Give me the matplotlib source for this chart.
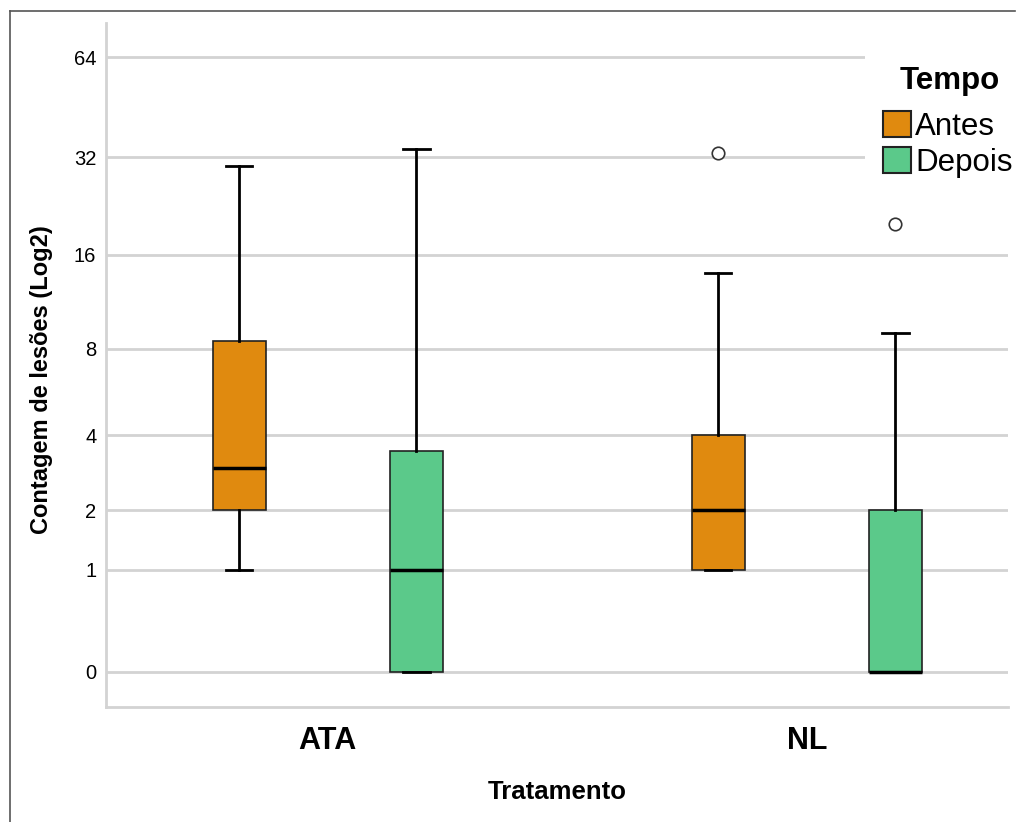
import numpy as np
import matplotlib
matplotlib.use('Agg')
import matplotlib.pyplot as plt
from matplotlib.lines import Line2D
from matplotlib.patches import Patch, Rectangle

plt.rcParams['font.family'] = ['Liberation Sans', 'DejaVu Sans']

# data (counts, y shown on log2(x+1) axis)
groups = ['ATA', 'NL']
series = ['Antes', 'Depois']
colors = ['#E08A0F', '#5BC98A']

whislo = {'Antes': [1, 1], 'Depois': [0, 0]}
q1 = {'Antes': [2, 1], 'Depois': [0, 0]}
med = {'Antes': [3, 2], 'Depois': [1, 0]}
q3 = {'Antes': [8.5, 4], 'Depois': [3.5, 2]}
whishi = {'Antes': [30, 14], 'Depois': [34, 9]}
fliers = {'Antes': [[], [33]], 'Depois': [[], [20]]}

yticks = [0, 1, 2, 4, 8, 16, 32, 64]


def fwd(x):
    return np.log2(np.maximum(np.asarray(x, dtype=float) + 1, 1e-9))


def inv(y):
    return 2.0 ** np.asarray(y, dtype=float) - 1


fig = plt.figure(figsize=(10.18, 8.22), dpi=100)
ax = fig.add_axes([106 / 1018, 115 / 822, 902 / 1018, 684 / 822])
ax.set_yscale('function', functions=(fwd, inv))

offset = 0.185
for j, s in enumerate(series):
    stats = []
    for i in range(len(groups)):
        stats.append(dict(med=med[s][i], q1=q1[s][i], q3=q3[s][i],
                          whislo=whislo[s][i], whishi=whishi[s][i],
                          fliers=fliers[s][i]))
    pos = [i + (j - 0.5) * 2 * offset for i in range(len(groups))]
    ax.bxp(stats, positions=pos, widths=0.11, patch_artist=True,
           showfliers=True, capwidths=0.055,
           boxprops=dict(facecolor=colors[j], edgecolor='#222222', linewidth=1.2),
           medianprops=dict(color='black', linewidth=2.5),
           whiskerprops=dict(color='black', linewidth=2),
           capprops=dict(color='black', linewidth=2),
           flierprops=dict(marker='o', markerfacecolor='white',
                           markeredgecolor='#333333', markersize=9,
                           markeredgewidth=1.2),
           zorder=3)

ax.set_xlim(-0.463, 1.42)
ax.set_ylim(inv(-0.343), inv(6.36))
ax.set_yticks(yticks)
ax.set_yticklabels([str(t) for t in yticks])
ax.yaxis.set_minor_locator(matplotlib.ticker.NullLocator())
ax.set_xticks(range(len(groups)))
ax.set_xticklabels(groups, fontsize=22, fontweight='bold')
ax.tick_params(axis='y', length=0, pad=7, labelsize=14.5)
ax.tick_params(axis='x', length=0, pad=14)

ax.grid(axis='y', color='#d3d3d3', linewidth=2, zorder=0)
ax.set_axisbelow(True)
for side in ['top', 'right']:
    ax.spines[side].set_visible(False)
for side in ['left', 'bottom']:
    ax.spines[side].set_color('#d3d3d3')
    ax.spines[side].set_linewidth(2)

ax.set_xlabel('Tratamento', fontsize=18.5, fontweight='bold', labelpad=17)
ax.set_ylabel('Contagem de lesões (Log2)', fontsize=17, fontweight='bold')
ax.yaxis.set_label_coords((53 - 106) / 902, (707 - 380) / 684)

# white legend area covering the grid lines
ax.add_patch(Rectangle((865 / 1018, 1 - 190 / 822), 150 / 1018, 150 / 822,
                       transform=fig.transFigure, facecolor='white',
                       edgecolor='none', zorder=1, clip_on=False))
fig.text(950 / 1018, 1 - 81 / 822, 'Tempo', fontsize=22.5, fontweight='bold',
         ha='center', va='center')

handles = [Patch(facecolor=c, edgecolor='#222222', linewidth=1.5) for c in colors]
leg = ax.legend(handles, series, loc='upper left',
                bbox_to_anchor=(883 / 1018, 1 - 111 / 822), bbox_transform=fig.transFigure,
                fontsize=22.5, frameon=False,
                handlelength=0.9, handleheight=0.9,
                handletextpad=0.12, labelspacing=0.18, borderpad=0,
                borderaxespad=0)
leg.set_zorder(5)

# outer frame lines (top and left)
fig.add_artist(Line2D([10 / 1018, 10 / 1018], [0, 1 - 11 / 822],
                      transform=fig.transFigure, color='#555555', linewidth=1.2))
fig.add_artist(Line2D([10 / 1018, 1015 / 1018], [1 - 11 / 822, 1 - 11 / 822],
                      transform=fig.transFigure, color='#555555', linewidth=1.2))

fig.savefig('out.png', dpi=100, facecolor='white')
